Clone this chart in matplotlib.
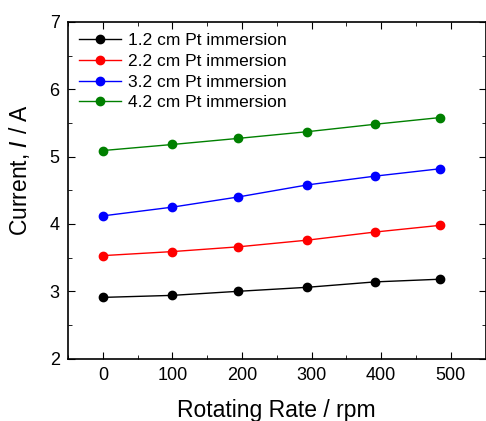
import numpy as np
import matplotlib
matplotlib.use('Agg')
import matplotlib.pyplot as plt
from matplotlib.ticker import MultipleLocator

plt.rcParams['font.family'] = ['Liberation Sans', 'DejaVu Sans']

# rotating rate (rpm)
rate = [0, 100, 194, 294, 391, 485]
# current (A) for each immersion depth
i_12 = [2.91, 2.94, 3.00, 3.06, 3.14, 3.18]
i_22 = [3.53, 3.59, 3.66, 3.76, 3.88, 3.98]
i_32 = [4.12, 4.25, 4.40, 4.58, 4.71, 4.82]
i_42 = [5.09, 5.18, 5.27, 5.37, 5.48, 5.58]
labels = ['1.2 cm Pt immersion', '2.2 cm Pt immersion',
          '3.2 cm Pt immersion', '4.2 cm Pt immersion']
colors = ['black', 'red', 'blue', 'green']

fig = plt.figure(figsize=(4.86, 4.21), dpi=100)
ax = fig.add_axes([0.14, 0.148, 0.859, 0.80])

for y, lab, c in zip([i_12, i_22, i_32, i_42], labels, colors):
    ax.plot(rate, y, '-o', color=c, lw=1, markersize=6, label=lab)

ax.set_xlim(-50, 550)
ax.set_ylim(2, 7)
ax.xaxis.set_major_locator(MultipleLocator(100))
ax.xaxis.set_minor_locator(MultipleLocator(50))
ax.yaxis.set_major_locator(MultipleLocator(1))
ax.yaxis.set_minor_locator(MultipleLocator(0.5))
ax.tick_params(which='both', direction='in', top=True, right=True, labelsize=13)
ax.tick_params(which='major', length=5, pad=6)
ax.tick_params(which='minor', length=3)
for s in ax.spines.values():
    s.set_linewidth(1.2)

ax.set_xlabel('Rotating Rate / rpm', fontsize=16.5, labelpad=11)
ax.set_ylabel('Current, $\\it{I}$ / A', fontsize=16.5)
ax.yaxis.set_label_coords(-0.087, 0.56)
ax.legend(loc='upper left', frameon=False, fontsize=12.5, handlelength=2.4,
          handletextpad=0.4, labelspacing=0.32, borderaxespad=0.3,
          borderpad=0.35)

fig.savefig('out.png', dpi=100)
